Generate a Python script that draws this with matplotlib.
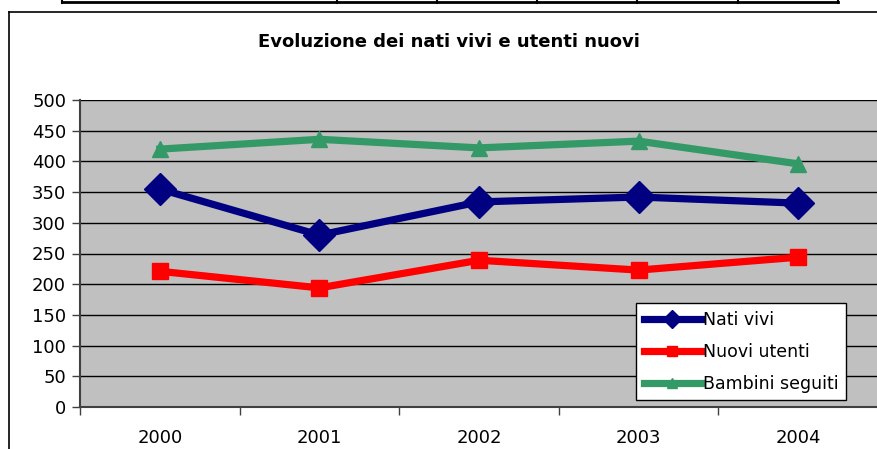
import matplotlib
matplotlib.use("Agg")
import matplotlib.pyplot as plt
from matplotlib.lines import Line2D

# Data
years = ["2000", "2001", "2002", "2003", "2004"]
nati_vivi = [355, 280, 334, 342, 332]
nuovi_utenti = [221, 194, 239, 223, 244]
bambini_seguiti = [420, 436, 422, 433, 396]
y_ticks = [0, 50, 100, 150, 200, 250, 300, 350, 400, 450, 500]

W, H = 878, 449
fig = plt.figure(figsize=(W / 100, H / 100), dpi=100)
fig.patch.set_facecolor("white")

def px(x0, y0, w, h):
    return [x0 / W, 1 - (y0 + h) / H, w / W, h / H]

# Plot area: x 80..878, y 100..407
ax = fig.add_axes(px(80, 100, 798, 307))
ax.set_facecolor("#c0c0c0")

xs = list(range(len(years)))
ax.plot(xs, nati_vivi, color="#000080", lw=5.2, marker="D", ms=16,
        label="Nati vivi")
ax.plot(xs, nuovi_utenti, color="#ff0000", lw=5.2, marker="s", ms=11,
        label="Nuovi utenti")
ax.plot(xs, bambini_seguiti, color="#339966", lw=5.2, marker="^", ms=12,
        label="Bambini seguiti")

ax.set_ylim(0, 500)
ax.set_xlim(-0.5, -0.5 + 798 / 160)
ax.set_yticks(y_ticks)
ax.set_yticklabels([str(v) for v in y_ticks], fontsize=13)
ax.yaxis.grid(True, color="black", lw=1)
ax.set_axisbelow(True)

# category labels centred, ticks on boundaries
ax.set_xticks(xs)
ax.set_xticklabels(years, fontsize=13)
ax.tick_params(axis="x", length=0, pad=16)
ax.set_xticks([i - 0.5 for i in range(len(years) + 1)], minor=True)
ax.tick_params(axis="x", which="minor", length=6, width=1, color="#404040")
ax.tick_params(axis="y", length=6, width=1, color="#404040", pad=4)

for side in ["top", "right"]:
    ax.spines[side].set_visible(False)
ax.spines["left"].set_color("#404040")
ax.spines["bottom"].set_color("#404040")
ax.spines["left"].set_linewidth(1.5)
ax.spines["bottom"].set_linewidth(1.5)

leg = ax.legend(loc="upper left", bbox_to_anchor=((636 - 80) / 798, (407 - 303) / 307),
                fontsize=12.5, frameon=True, fancybox=False, edgecolor="black",
                framealpha=1, handlelength=3.3, handletextpad=0.1,
                borderpad=0.45, labelspacing=0.8, borderaxespad=0, markerscale=0.6)
leg.get_frame().set_linewidth(1)

fig.text(449 / W, 1 - 42 / H, "Evoluzione dei nati vivi e utenti nuovi",
         ha="center", va="center", fontsize=13, fontweight="bold")

# outer chart frame
def fline(x, y, **kw):
    fig.add_artist(Line2D([v / W for v in x], [1 - v / H for v in y],
                          transform=fig.transFigure, color="black", **kw))

fline([9, 878], [12, 12], lw=1.2)
fline([9, 9], [12, 449], lw=1.2)

# bottom edge of the table above the chart
fline([62, 838], [1.5, 1.5], lw=2)
for xv in [62, 337, 437, 537, 637, 738, 838]:
    fline([xv, xv], [0, 2.5], lw=1.5)

fig.savefig("out.png", dpi=100)
